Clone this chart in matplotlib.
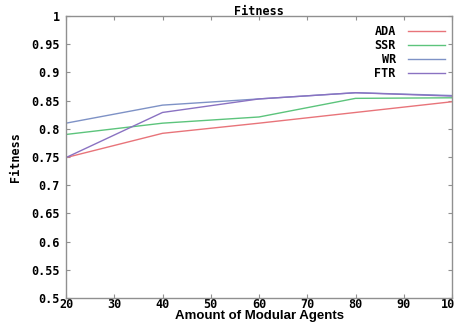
import matplotlib
matplotlib.use("Agg")
import matplotlib.pyplot as plt

# Fitness vs. number of modular agents for four strategies
agents = [20, 40, 60, 80, 100]
ada = [0.749, 0.792, 0.810, 0.829, 0.848]
ssr = [0.790, 0.810, 0.821, 0.854, 0.855]
wr = [0.810, 0.842, 0.853, 0.864, 0.859]
ftr = [0.749, 0.829, 0.853, 0.864, 0.858]

series = [("ADA", ada, "#e8747a"), ("SSR", ssr, "#5cc47c"),
          ("WR", wr, "#7e92c6"), ("FTR", ftr, "#8a72c2")]

xticks = [20, 30, 40, 50, 60, 70, 80, 90, 100]
yticks = [0.5, 0.55, 0.6, 0.65, 0.7, 0.75, 0.8, 0.85, 0.9, 0.95, 1.0]
ytick_labels = ["0.5", "0.55", "0.6", "0.65", "0.7", "0.75", "0.8",
                "0.85", "0.9", "0.95", "1"]

mono = {"family": "DejaVu Sans Mono", "weight": "bold", "size": 8.5}

fig = plt.figure(figsize=(4.54, 3.35), dpi=100)
ax = fig.add_axes([0.1454, 0.1104, 0.8502, 0.8418])

for name, vals, color in series:
    ax.plot(agents, vals, color=color, lw=1.0, label=name)

ax.set_xlim(20, 100)
ax.set_ylim(0.5, 1.0)
ax.set_xticks(xticks)
ax.set_xticklabels([str(t) for t in xticks], fontdict=mono)
ax.set_yticks(yticks)
ax.set_yticklabels(ytick_labels, fontdict=mono)

ax.tick_params(direction="in", length=3, width=0.8, color="#909090",
               top=True, right=True)
ax.tick_params(axis="y", pad=4.5)
ax.tick_params(axis="x", pad=0)
for sp in ax.spines.values():
    sp.set_color("#909090")
    sp.set_linewidth(1.0)

ax.set_title("Fitness", fontdict=mono, pad=1)
ax.set_ylabel("Fitness", fontdict=mono, labelpad=7)
ax.set_xlabel("Amount of Modular Agents", family="Liberation Sans",
              weight="bold", size=9.5, labelpad=-1)

leg = ax.legend(loc="upper right", frameon=False, markerfirst=False,
                prop=mono, handlelength=3.2, handletextpad=1.0,
                labelspacing=0.08, borderaxespad=0.0,
                bbox_to_anchor=(0.995, 0.985))
for t in leg.get_texts():
    t.set_ha("right")

fig.savefig("out.png", dpi=100)
